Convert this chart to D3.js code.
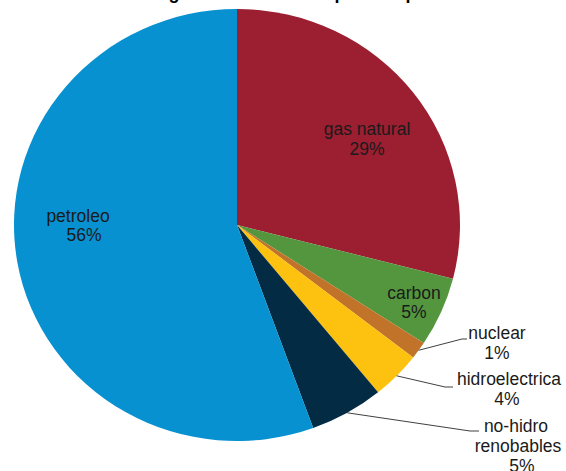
<!DOCTYPE html>
<html>
<head>
<meta charset="utf-8">
<script src="https://cdn.jsdelivr.net/npm/d3@7"></script>
<style>
  html, body { margin: 0; padding: 0; background: #ffffff; }
  svg { display: block; }
  text { font-family: "Liberation Sans", Arial, sans-serif; }
</style>
</head>
<body>
<svg id="chart" width="566" height="471"></svg>
<script>
// Share of world primary energy consumption by source (percent)
const fuentes = ["gas natural", "carbon", "nuclear", "hidroelectrica", "no-hidro renobables", "petroleo"];
const porcentajes = [29.0, 5.2, 1.3, 3.6, 5.35, 55.55];
const colores = ["#9c1e31", "#53963e", "#c1732a", "#fdc10f", "#032b44", "#0791d0"];
const titulo = "Consumo de energía a nivel mundial por su tipo";

const width = 566, height = 471;
const cx = 237, cy = 225;
const rx = 223, ry = 216;

const svg = d3.select("#chart");

// Title sits above the top edge; only its descenders fall inside the frame
svg.append("text")
  .attr("x", 222).attr("y", -1)
  .attr("text-anchor", "middle")
  .attr("font-size", 18).attr("font-weight", "bold")
  .attr("fill", "#000")
  .text(titulo);

const datos = fuentes.map((f, i) => ({ fuente: f, valor: porcentajes[i], color: colores[i] }));

const pie = d3.pie().value(d => d.valor).sort(null);
const arcs = pie(datos);
const arc = d3.arc().innerRadius(0).outerRadius(rx);

// Pie drawn as a slightly flattened disc
const g = svg.append("g")
  .attr("transform", `translate(${cx},${cy}) scale(1,${ry / rx})`);

g.selectAll("path")
  .data(arcs)
  .join("path")
  .attr("d", arc)
  .attr("fill", d => d.data.color);

const fmt = v => Math.round(v) + "%";

// Point on the pie rim at an angle measured clockwise from 12 o'clock
const rim = a => [cx + rx * Math.sin(a), cy - ry * Math.cos(a)];

// Label layout: inside labels give two line anchors; outside labels add a leader elbow
const etiquetas = [
  { lines: [["gas natural", 367, 135], ["%", 367, 155]] },
  { lines: [["carbon", 414, 299], ["%", 414, 318]] },
  { lines: [["nuclear", 497, 339], ["%", 497, 359]], elbow: [462, 339], end: [467, 339] },
  { lines: [["hidroelectrica", 509, 385], ["%", 507, 405]], elbow: [445, 387], end: [453, 387] },
  { lines: [["no-hidro", 516, 432], ["renobables", 518, 452], ["%", 522, 472]], elbow: [470, 431], end: [479, 431] },
  { lines: [["petroleo", 78, 222], ["%", 84, 241]] }
];

const labels = svg.append("g");

arcs.forEach((d, i) => {
  const lay = etiquetas[i];
  if (lay.elbow) {
    const mid = (d.startAngle + d.endAngle) / 2;
    const p0 = rim(mid);
    labels.append("polyline")
      .attr("points", [p0, lay.elbow, lay.end].map(p => p.join(",")).join(" "))
      .attr("fill", "none")
      .attr("stroke", "#404040")
      .attr("stroke-width", 1);
  }
  lay.lines.forEach(([t, x, y]) => {
    labels.append("text")
      .attr("x", x).attr("y", y)
      .attr("text-anchor", "middle")
      .attr("font-size", 17.5)
      .attr("fill", "#1a1a1a")
      .text(t === "%" ? fmt(d.data.valor) : t);
  });
});
</script>
</body>
</html>
